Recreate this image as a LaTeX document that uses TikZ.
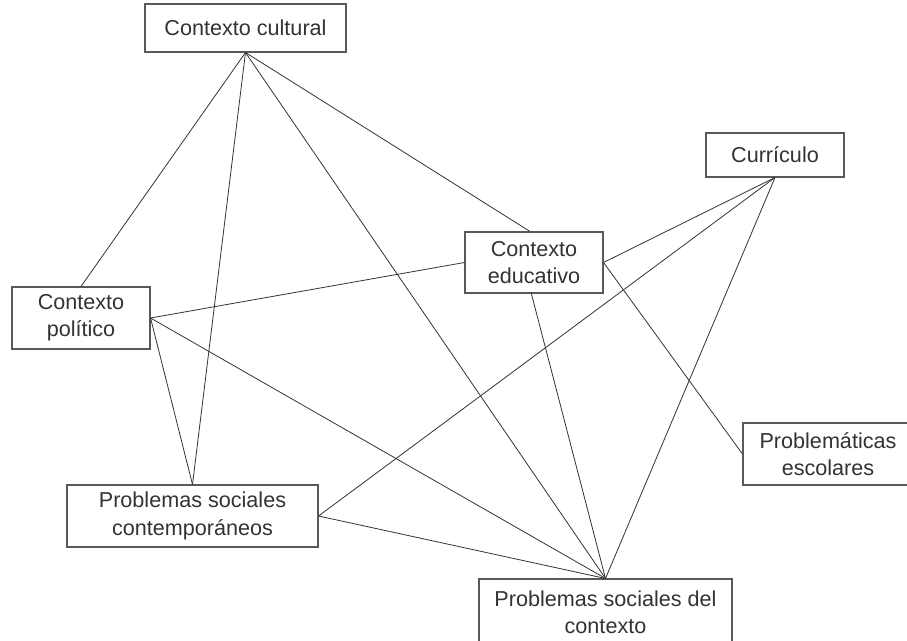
\documentclass[tikz,border=0pt]{standalone}
\usepackage{fontspec}
\setmainfont{Liberation Sans}
\begin{document}
\begin{tikzpicture}[x=0.75pt,y=-0.75pt,
  box/.style={draw=black!65,line width=0.8pt,fill=white,align=center,inner sep=0pt,
    text=black!80,font=\fontsize{16.2}{20.5}\selectfont},
  link/.style={draw=black!80,line width=0.6pt}]
\clip (0,0) rectangle (907,641);
\fill[white] (0,0) rectangle (907,641);
\node[box,minimum width=201*0.75pt,minimum height=48*0.75pt] (cult) at (245.5,28) {Contexto cultural};
\node[box,minimum width=138*0.75pt,minimum height=44*0.75pt] (curr) at (775,155) {Currículo};
\node[box,minimum width=138*0.75pt,minimum height=61*0.75pt] (edu) at (534,262.5) {Contexto\\educativo};
\node[box,minimum width=170*0.75pt,minimum height=62*0.75pt] (pesc) at (828,454) {Problemáticas\\escolares};
\node[box,minimum width=138*0.75pt,minimum height=62*0.75pt] (pol) at (81,318) {Contexto\\político};
\node[box,minimum width=251*0.75pt,minimum height=62*0.75pt] (psc) at (192.5,516) {Problemas sociales\\contemporáneos};
\node[box,minimum width=253*0.75pt,minimum height=66*0.75pt] (pctx) at (605.5,612) {Problemas sociales del\\contexto};
\draw[link] (cult.south) -- (pol.north);
\draw[link] (cult.south) -- (psc.north);
\draw[link] (cult.south) -- (pctx.north);
\draw[link] (cult.south) -- ([xshift=-3pt]edu.north);
\draw[link] (curr.south) -- (edu.east);
\draw[link] (curr.south) -- (psc.east);
\draw[link] (curr.south) -- (pctx.north);
\draw[link] (edu.west) -- (pol.east);
\draw[link] ([xshift=-2pt]edu.south) -- (pctx.north);
\draw[link] (edu.east) -- (pesc.west);
\draw[link] (pol.east) -- (psc.north);
\draw[link] (pol.east) -- (pctx.north);
\draw[link] (psc.east) -- (pctx.north);
\end{tikzpicture}
\end{document}
